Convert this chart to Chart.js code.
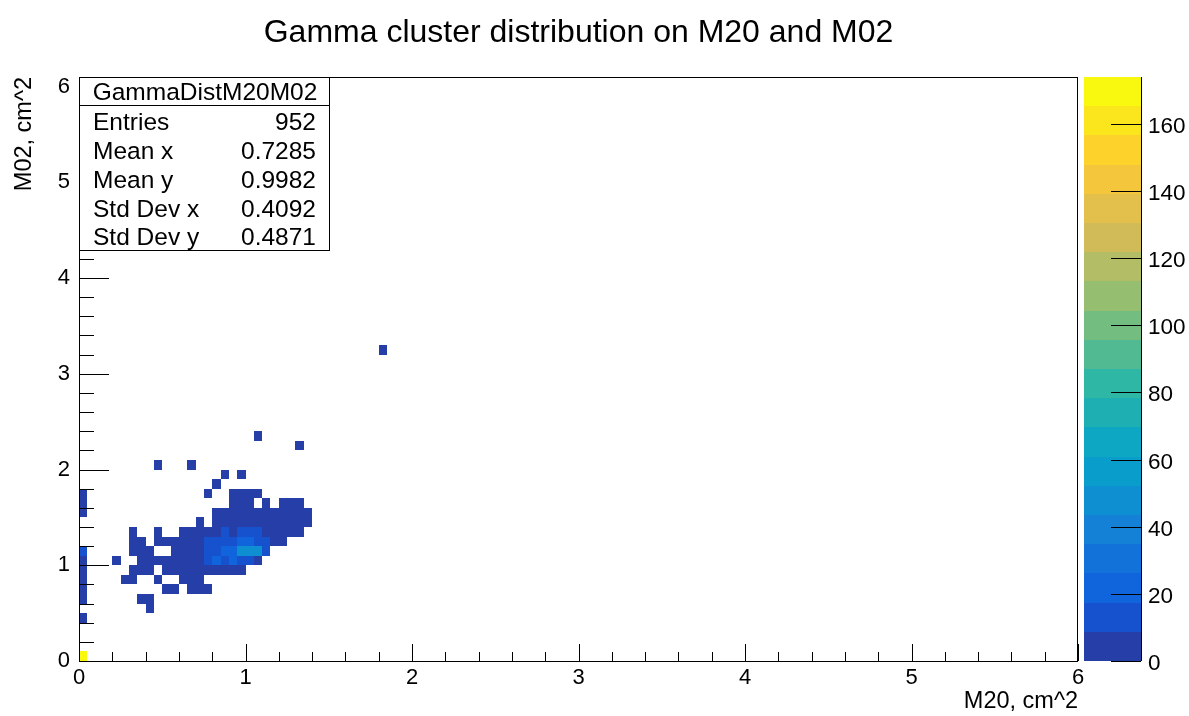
<!DOCTYPE html>
<html>
<head>
<meta charset="utf-8">
<title>Gamma cluster distribution on M20 and M02</title>
<script src="https://cdn.jsdelivr.net/npm/chart.js@4.4.1/dist/chart.umd.min.js"></script>
<style>
  html, body { margin: 0; padding: 0; background: #fff; }
  #histo { display: block; }
</style>
</head>
<body>
<canvas id="histo" width="1189" height="716"></canvas>
<script>
// histogram binning
const xBinWidth = 0.05;
const yBinWidth = 0.1;

// filled bins: lower x edge, lower y edge, content (one line per y row)
const cellX = [
  0,
  0,
  0.40,
  0, 0.35, 0.40,
  0, 0.50, 0.55, 0.65, 0.70, 0.75,
  0, 0.25, 0.30, 0.45, 0.60, 0.65, 0.70,
  0, 0.30, 0.35, 0.40, 0.50, 0.55, 0.60, 0.65, 0.70, 0.75, 0.80, 0.85, 0.90, 0.95,
  0, 0.20, 0.35, 0.40, 0.45, 0.50, 0.55, 0.60, 0.65, 0.70, 0.75, 0.80, 0.85, 0.90, 0.95, 1.00, 1.05,
  0, 0.30, 0.35, 0.40, 0.55, 0.60, 0.65, 0.70, 0.75, 0.80, 0.85, 0.90, 0.95, 1.00, 1.05, 1.10,
  0.30, 0.35, 0.45, 0.50, 0.55, 0.60, 0.65, 0.70, 0.75, 0.80, 0.85, 0.90, 0.95, 1.00, 1.05, 1.10, 1.15, 1.20,
  0.30, 0.45, 0.60, 0.65, 0.70, 0.75, 0.80, 0.85, 0.90, 0.95, 1.00, 1.05, 1.10, 1.15, 1.20, 1.25, 1.30,
  0.70, 0.80, 0.85, 0.90, 0.95, 1.00, 1.05, 1.10, 1.15, 1.20, 1.25, 1.30, 1.35,
  0, 0.80, 0.85, 0.90, 0.95, 1.00, 1.05, 1.10, 1.15, 1.20, 1.25, 1.30, 1.35,
  0, 0.90, 0.95, 1.00, 1.10, 1.20, 1.25, 1.30,
  0, 0.75, 0.90, 0.95, 1.00, 1.05,
  0.80,
  0.85, 0.95,
  0.45, 0.65,
  1.30,
  1.05,
  1.80
];
const cellY = [
  0,
  0.4,
  0.5,
  0.6, 0.6, 0.6,
  0.7, 0.7, 0.7, 0.7, 0.7, 0.7,
  0.8, 0.8, 0.8, 0.8, 0.8, 0.8, 0.8,
  0.9, 0.9, 0.9, 0.9, 0.9, 0.9, 0.9, 0.9, 0.9, 0.9, 0.9, 0.9, 0.9, 0.9,
  1.0, 1.0, 1.0, 1.0, 1.0, 1.0, 1.0, 1.0, 1.0, 1.0, 1.0, 1.0, 1.0, 1.0, 1.0, 1.0, 1.0,
  1.1, 1.1, 1.1, 1.1, 1.1, 1.1, 1.1, 1.1, 1.1, 1.1, 1.1, 1.1, 1.1, 1.1, 1.1, 1.1,
  1.2, 1.2, 1.2, 1.2, 1.2, 1.2, 1.2, 1.2, 1.2, 1.2, 1.2, 1.2, 1.2, 1.2, 1.2, 1.2, 1.2, 1.2,
  1.3, 1.3, 1.3, 1.3, 1.3, 1.3, 1.3, 1.3, 1.3, 1.3, 1.3, 1.3, 1.3, 1.3, 1.3, 1.3, 1.3,
  1.4, 1.4, 1.4, 1.4, 1.4, 1.4, 1.4, 1.4, 1.4, 1.4, 1.4, 1.4, 1.4,
  1.5, 1.5, 1.5, 1.5, 1.5, 1.5, 1.5, 1.5, 1.5, 1.5, 1.5, 1.5, 1.5,
  1.6, 1.6, 1.6, 1.6, 1.6, 1.6, 1.6, 1.6,
  1.7, 1.7, 1.7, 1.7, 1.7, 1.7,
  1.8,
  1.9, 1.9,
  2.0, 2.0,
  2.2,
  2.3,
  3.2
];
const cellCount = [
  174,
  2,
  1,
  3, 1, 1,
  4, 2, 2, 2, 3, 2,
  5, 1, 2, 1, 2, 3, 3,
  4, 1, 2, 2, 2, 3, 3, 4, 5, 4, 4, 3, 2, 1,
  7, 1, 1, 2, 2, 3, 3, 4, 5, 6, 11, 20, 11, 20, 11, 11, 5,
  10, 1, 2, 2, 3, 4, 5, 6, 11, 11, 20, 20, 45, 45, 45, 11,
  1, 1, 2, 2, 3, 4, 5, 6, 11, 11, 11, 11, 20, 20, 11, 11, 4, 3,
  1, 1, 2, 3, 4, 4, 5, 10, 6, 10, 10, 10, 5, 4, 3, 2, 1,
  1, 3, 4, 4, 5, 5, 5, 4, 4, 3, 2, 2, 1,
  2, 1, 2, 3, 3, 4, 4, 3, 3, 2, 2, 1, 1,
  2, 2, 2, 2, 1, 1, 2, 1,
  2, 1, 1, 2, 1, 1,
  1,
  1, 1,
  1, 1,
  1,
  1,
  1
];

// colour scale
const zMax = 174;
const nLevels = 20;
const zTicks = [0, 20, 40, 60, 80, 100, 120, 140, 160];

// statistics box
const statName = 'GammaDistM20M02';
const statLabels = ['Entries', 'Mean x', 'Mean y', 'Std Dev x', 'Std Dev y'];
const statValues = ['952', '0.7285', '0.9982', '0.4092', '0.4871'];

const FONT = '"Liberation Sans", Arial, Helvetica, sans-serif';

// ROOT kBird palette, 255 colours
const birdStops = [0.0000, 0.1250, 0.2500, 0.3750, 0.5000, 0.6250, 0.7500, 0.8750, 1.0000];
const birdRed   = [0.2082, 0.0592, 0.0780, 0.0232, 0.1802, 0.5301, 0.8186, 0.9956, 0.9764];
const birdGreen = [0.1664, 0.3599, 0.5041, 0.6419, 0.7178, 0.7492, 0.7328, 0.7862, 0.9832];
const birdBlue  = [0.5293, 0.8684, 0.8385, 0.7914, 0.6425, 0.4662, 0.3499, 0.1968, 0.0539];

const palette = [];
for (let g = 1; g < birdStops.length; g++) {
  const n = Math.floor(255 * birdStops[g]) - Math.floor(255 * birdStops[g - 1]);
  for (let c = 0; c < n; c++) {
    const r = birdRed[g - 1] + c * (birdRed[g] - birdRed[g - 1]) / n;
    const gr = birdGreen[g - 1] + c * (birdGreen[g] - birdGreen[g - 1]) / n;
    const b = birdBlue[g - 1] + c * (birdBlue[g] - birdBlue[g - 1]) / n;
    palette.push(`rgb(${Math.round(r * 255)},${Math.round(gr * 255)},${Math.round(b * 255)})`);
  }
}

function bandColor(band) {
  const idx = Math.floor((band + 0.99) * palette.length / nLevels);
  return palette[Math.min(idx, palette.length - 1)];
}

function levelColor(v) {
  const band = Math.min(nLevels - 1, Math.floor(0.01 + v * nLevels / zMax));
  return bandColor(band);
}

function line(ctx, x0, y0, x1, y1) {
  ctx.beginPath();
  ctx.moveTo(x0, y0);
  ctx.lineTo(x1, y1);
  ctx.stroke();
}

const histPlugin = {
  id: 'hist2d',
  beforeDatasetsDraw(chart) {
    const { ctx, chartArea: a, scales: { x, y } } = chart;
    ctx.save();
    ctx.beginPath();
    ctx.rect(a.left, a.top, a.right - a.left, a.bottom - a.top);
    ctx.clip();
    for (let k = 0; k < cellCount.length; k++) {
      const x0 = Math.round(x.getPixelForValue(cellX[k]));
      const x1 = Math.round(x.getPixelForValue(cellX[k] + xBinWidth));
      const y0 = Math.round(y.getPixelForValue(cellY[k] + yBinWidth));
      const y1 = Math.round(y.getPixelForValue(cellY[k]));
      ctx.fillStyle = levelColor(cellCount[k]);
      ctx.fillRect(x0, y0, x1 - x0, y1 - y0);
    }
    ctx.restore();
  },
  afterDraw(chart) {
    const { ctx, chartArea: a, scales: { x, y } } = chart;
    const L = Math.round(a.left), R = Math.round(a.right);
    const T = Math.round(a.top), B = Math.round(a.bottom);
    ctx.save();
    ctx.strokeStyle = '#000';
    ctx.lineWidth = 1;

    // ticks, drawn inside the frame like ROOT does
    for (let v = 0; v <= 30; v++) {
      const px = Math.round(x.getPixelForValue(v * 0.2)) + 0.5;
      line(ctx, px, B, px, B - (v % 5 === 0 ? 17 : 9));
    }
    for (let v = 0; v <= 30; v++) {
      const py = Math.round(y.getPixelForValue(v * 0.2)) + 0.5;
      line(ctx, L, py, L + (v % 5 === 0 ? 30 : 15), py);
    }

    // frame
    ctx.strokeRect(L + 0.5, T + 0.5, R - L - 1, B - T);

    // statistics box
    const sx = L, sy = T, sw = 250, sh = 173;
    ctx.fillStyle = '#fff';
    ctx.fillRect(sx, sy, sw, sh);
    ctx.strokeRect(sx + 0.5, sy + 0.5, sw, sh);
    line(ctx, sx, sy + 28.5, sx + sw, sy + 28.5);
    ctx.fillStyle = '#000';
    ctx.font = `24.5px ${FONT}`;
    ctx.textBaseline = 'middle';
    ctx.textAlign = 'center';
    ctx.fillText(statName, sx + sw / 2 + 1, sy + 16);
    ctx.font = `24.5px ${FONT}`;
    for (let i = 0; i < statLabels.length; i++) {
      const ty = sy + 46.5 + i * 28.8;
      ctx.textAlign = 'left';
      ctx.fillText(statLabels[i], sx + 14, ty);
      ctx.textAlign = 'right';
      ctx.fillText(statValues[i], sx + 237, ty);
    }

    // colour palette axis
    const px0 = 1084, px1 = 1141;
    const zPix = z => B - (z / zMax) * (B - T);
    for (let k = 0; k < nLevels; k++) {
      const yTop = Math.round(zPix((k + 1) * zMax / nLevels));
      const yBot = Math.round(zPix(k * zMax / nLevels));
      ctx.fillStyle = bandColor(k);
      ctx.fillRect(px0, yTop, px1 - px0, yBot - yTop);
    }
    line(ctx, px1 + 0.5, T, px1 + 0.5, B);
    ctx.fillStyle = '#000';
    ctx.font = `22.5px ${FONT}`;
    ctx.textAlign = 'left';
    ctx.textBaseline = 'middle';
    zTicks.forEach(t => {
      const py = Math.round(zPix(t)) + 0.5;
      line(ctx, px1, py, px1 - 30, py);
      ctx.fillText(String(t), px1 + 7, py + 2);
    });

    // title
    ctx.font = `32px ${FONT}`;
    ctx.textAlign = 'center';
    ctx.fillText('Gamma cluster distribution on M20 and M02', (a.left + a.right) / 2, 33);
    ctx.restore();
  }
};

new Chart(document.getElementById('histo'), {
  type: 'scatter',
  data: {
    datasets: [{
      label: 'GammaDistM20M02',
      data: cellX.map((v, k) => ({ x: v + xBinWidth / 2, y: cellY[k] + yBinWidth / 2 })),
      pointRadius: 0,
      pointHoverRadius: 0
    }]
  },
  options: {
    responsive: false,
    animation: false,
    devicePixelRatio: 1,
    layout: { padding: { top: 77, right: 111, left: 0, bottom: 0 } },
    plugins: {
      legend: { display: false },
      tooltip: { enabled: false }
    },
    scales: {
      x: {
        type: 'linear',
        min: 0,
        max: 6,
        border: { display: false },
        grid: { display: false, drawTicks: false },
        ticks: {
          stepSize: 1,
          includeBounds: false,
          maxRotation: 0,
          padding: 4,
          color: '#000',
          font: { family: FONT, size: 22 }
        },
        title: {
          display: true,
          text: 'M20, cm^2',
          align: 'end',
          color: '#000',
          font: { family: FONT, size: 23.5 },
          padding: { top: 0, bottom: 0 }
        },
        afterFit(scale) { scale.height = 55; }
      },
      y: {
        type: 'linear',
        min: 0,
        max: 6.1,
        border: { display: false },
        grid: { display: false, drawTicks: false },
        ticks: {
          stepSize: 1,
          includeBounds: false,
          padding: 9,
          color: '#000',
          font: { family: FONT, size: 22 }
        },
        title: {
          display: true,
          text: 'M02, cm^2',
          align: 'end',
          color: '#000',
          font: { family: FONT, size: 23.5 },
          padding: { top: 10, bottom: 0 }
        },
        afterFit(scale) { scale.width = 79; }
      }
    }
  },
  plugins: [histPlugin]
});
</script>
</body>
</html>
